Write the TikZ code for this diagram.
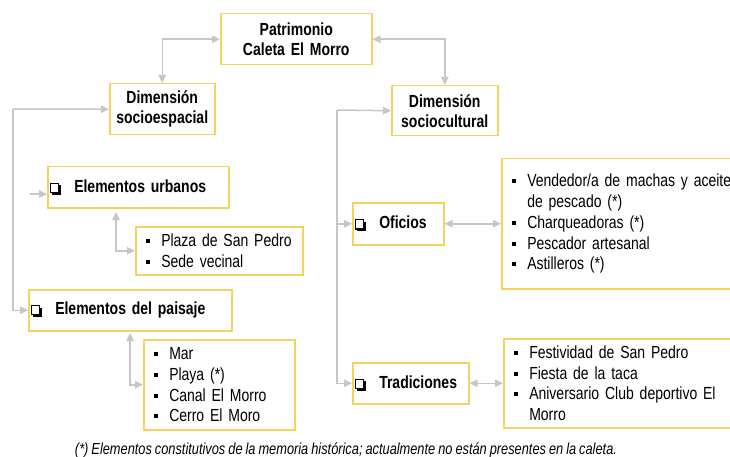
\documentclass[tikz,border=0pt]{standalone}
\usepackage{fontspec}
\setmainfont[FakeStretch=0.8]{Liberation Sans}
\usepackage[HTML]{xcolor}
\usetikzlibrary{positioning, arrows, arrows.meta}
\definecolor{boxline}{HTML}{F6D35E}
\definecolor{linkgray}{HTML}{C6C6C6}
\newcommand{\bul}{\makebox[15.5pt][l]{\raisebox{3.5pt}{\rule{4pt}{4pt}}}}
\newcommand{\chk}{\makebox[24.5pt][l]{\tikz[x=1pt,y=1pt,baseline=0pt]{\fill (2,-2.2) rectangle (11.2,7); \draw[line width=1.3pt,fill=white] (0.65,0) rectangle (9,9.2);}}}
\newcommand{\boxfont}{\bfseries\fontsize{17.5}{20}\selectfont\spaceskip=3.6pt\relax}
\newcommand{\listfont}{\fontsize{17.5}{20.8}\selectfont\spaceskip=3pt\relax}
\newcommand{\notefont}{\itshape\fontsize{16}{18}\selectfont\spaceskip=3pt\relax}

\begin{document}
\begin{tikzpicture}[x=1pt, y=-1pt,
  box/.style={draw=boxline, line width=1.5pt, anchor=north west, inner ysep=0pt, inner xsep=2pt},
  titlebox/.style={box, font=\boxfont, align=center},
  headbox/.style={box, font=\boxfont, align=left},
  listbox/.style={box, inner xsep=10pt, font=\listfont, align=left},
  link/.style={draw=linkgray, line width=1.5pt},
  >={Triangle[length=8pt,width=7.5pt]}]
\useasboundingbox (0,0) rectangle (730,457);
\clip (0,0) rectangle (730,457);
% boxes
\node[titlebox, text width=147pt, minimum height=51pt] (pat) at (220,13) {Patrimonio\\Caleta El Morro};
\node[titlebox, text width=101pt, minimum height=51pt] (soce) at (109,83) {Dimensión\\socioespacial};
\node[titlebox, text width=102pt, minimum height=50pt] (socc) at (391,85) {Dimensión\\sociocultural};
\node[headbox, text width=177pt, minimum height=41pt] (urb) at (47,166) {\chk Elementos urbanos};
\node[headbox, text width=199pt, minimum height=41pt] (pais) at (28,289) {\chk Elementos del paisaje};
\node[headbox, text width=87pt, minimum height=42pt] (ofi) at (352,202) {\chk Oficios};
\node[headbox, text width=112pt, minimum height=41pt] (tra) at (352,362) {\chk Tradiciones};
% lists
\node[listbox, text width=147pt, minimum height=48pt] (plaza) at (135,226) {\bul Plaza de San Pedro\\\bul Sede vecinal};
\node[listbox, text width=131pt, minimum height=90pt] (mar) at (143,339) {\bul Mar\\\bul Playa (*)\\\bul Canal El Morro\\\bul Cerro El Moro};
\node[listbox, text width=250pt, minimum height=130pt] (ofl) at (501,158) {\bul Vendedor/a de machas y aceite\\\hspace*{15.5pt}de pescado (*)\\\bul Charqueadoras (*)\\\bul Pescador artesanal\\\bul Astilleros (*)};
\node[listbox, text width=250pt, minimum height=89pt] (trl) at (503,338) {\bul Festividad de San Pedro\\\bul Fiesta de la taca\\\bul Aniversario Club deportivo El\\\hspace*{15.5pt}Morro};
% free ends
\coordinate (lt) at (13,109);
\coordinate (rt) at (337,110);
\coordinate (ua) at (30,194);
\coordinate (ub) at (116,212);
\coordinate (pb) at (130,333);
% arrows
\draw[link,<->] (pat.west) -| (soce.north);
\draw[link,<->] (pat.east) -| (socc.north);
\draw[link,->] (lt) -- (soce.west);
\draw[link,->] (lt) |- (pais.west);
\draw[link,->] (ua) -- (ua -| urb.west);
\draw[link,<->] (ub) |- (plaza.west);
\draw[link,<->] (pb) |- (mar.west);
\draw[link,->] (rt) -- (socc.west);
\draw[link,->] (rt) |- (tra.west);
\draw[link,->] (rt |- ofi.west) -- (ofi.west);
\draw[link,<->] (ofi.east) -- (ofl.west);
\draw[link,<->] (tra.east) -- (trl.west);
% note
\node[font=\notefont] (note) at (346,450) {(*) Elementos constitutivos de la memoria histórica; actualmente no están presentes en la caleta.};
\end{tikzpicture}
\end{document}
